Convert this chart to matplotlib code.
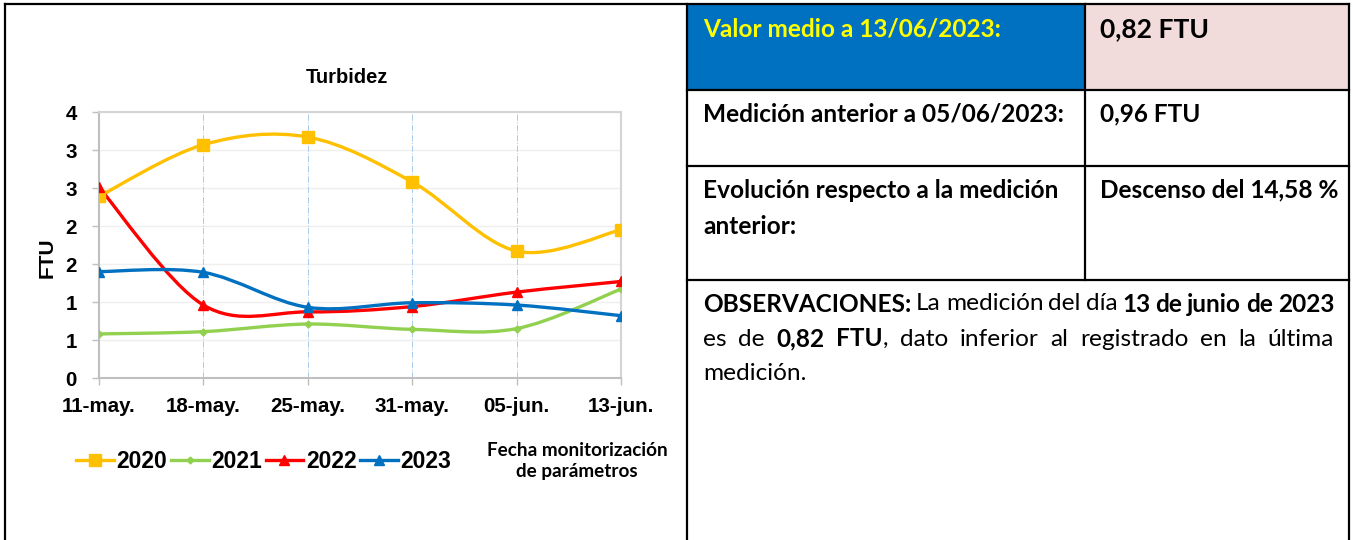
import numpy as np
import matplotlib
matplotlib.use("Agg")
import matplotlib.pyplot as plt
from matplotlib.path import Path
from matplotlib.patches import PathPatch, Rectangle
from matplotlib.lines import Line2D

# data
fechas = ["11-may.", "18-may.", "25-may.", "31-may.", "05-jun.", "13-jun."]
v2020 = [2.39, 3.07, 3.17, 2.58, 1.67, 1.95]
v2021 = [0.58, 0.61, 0.71, 0.64, 0.65, 1.17]
v2022 = [2.51, 0.96, 0.87, 0.94, 1.13, 1.27]
v2023 = [1.40, 1.39, 0.93, 0.99, 0.96, 0.82]
years = ["2020", "2021", "2022", "2023"]
yticks = [0, 0.5, 1, 1.5, 2, 2.5, 3, 3.5]
ytick_labels = ["0", "1", "1", "2", "2", "3", "3", "4"]

colors = ["#FFC000", "#92D050", "#FF0000", "#0070C0"]
markers = ["s", "D", "^", "^"]
msizes = [8, 3.5, 6.5, 6.5]

W, H = 1353, 540
fig = plt.figure(figsize=(W / 100, H / 100), dpi=100)

arial = "Liberation Sans"
calibri = "Lato"


def smooth_path(x, y):
    # excel-like smoothed line: cubic bezier with catmull-rom tangents
    pts = np.column_stack([x, y]).astype(float)
    n = len(pts)
    verts = [pts[0]]
    codes = [Path.MOVETO]
    for i in range(n - 1):
        p0 = pts[max(i - 1, 0)]
        p1 = pts[i]
        p2 = pts[i + 1]
        p3 = pts[min(i + 2, n - 1)]
        c1 = p1 + (p2 - p0) / 6
        c2 = p2 - (p3 - p1) / 6
        verts += [c1, c2, p2]
        codes += [Path.CURVE4] * 3
    return Path(verts, codes)


# chart
ax = fig.add_axes([99 / W, 1 - 378 / H, (621 - 99) / W, (378 - 112) / H])
xs = np.arange(len(fechas))
series = [v2020, v2021, v2022, v2023]
handles = []
for vals, c, m, ms, lab in zip(series, colors, markers, msizes, years):
    ax.add_patch(PathPatch(smooth_path(xs, vals), facecolor="none",
                           edgecolor=c, lw=2.4, zorder=3, capstyle="round"))
    ax.plot(xs, vals, ls="none", marker=m, ms=ms, color=c, zorder=4)
    handles.append(Line2D([], [], color=c, lw=2.4, marker=m, ms=ms, label=lab))

ax.set_xlim(0, 5)
ax.set_ylim(0, 3.5)
ax.set_yticks(yticks)
ax.set_yticklabels(ytick_labels)
ax.set_xticks(xs)
ax.set_xticklabels(fechas)
for t in ax.get_xticklabels() + ax.get_yticklabels():
    t.set_fontfamily(arial)
    t.set_fontweight("bold")
    t.set_fontsize(14.8)
ax.tick_params(axis="y", length=5, width=1, color="#BFBFBF", pad=11)
ax.tick_params(axis="x", length=5, width=1, color="#BFBFBF", pad=9)
for y in yticks[1:]:
    ax.axhline(y, color="#EFEFEF", lw=1, zorder=1)
for x in xs[1:]:
    ax.axvline(x, color="#A9CBEA", lw=0.7, ls="-.", zorder=1)
for s in ["left", "bottom", "right", "top"]:
    ax.spines[s].set_color("#D4D4D4")
    ax.spines[s].set_linewidth(1.5)
ax.spines["left"].set_color("#BFBFBF")
ax.spines["bottom"].set_color("#BFBFBF")

fig.text(347 / W, 1 - 78 / H, "Turbidez", ha="center", va="center",
         fontfamily=arial, fontweight="bold", fontsize=14.5)
fig.text(47 / W, 1 - 258 / H, "FTU", ha="center", va="center", rotation=90,
         fontfamily=arial, fontweight="bold", fontsize=15)

fig.legend(handles=handles, loc="center left", bbox_to_anchor=(76 / W, 1 - 462 / H),
           ncol=4, frameon=False, handlelength=1.65, handletextpad=0.12,
           columnspacing=0.15, borderpad=0, borderaxespad=0,
           prop={"family": arial, "weight": "bold", "size": 16.5})
fig.text(577 / W, 1 - 461 / H, "Fecha monitorización\nde parámetros", ha="center",
         va="center", fontfamily=calibri, fontweight="bold", fontsize=13.6,
         linespacing=1.3)

# table / frame overlay in pixel coordinates
ov = fig.add_axes([0, 0, 1, 1], zorder=-1)
ov.set_xlim(0, W)
ov.set_ylim(H, 0)
ov.axis("off")
ov.add_patch(Rectangle((687, 4), 1085 - 687, 90 - 4, color="#0070C0", lw=0))
ov.add_patch(Rectangle((1085, 4), 1349 - 1085, 90 - 4, color="#F2DCDB", lw=0))

ov2 = fig.add_axes([0, 0, 1, 1], zorder=5)
ov2.set_xlim(0, W)
ov2.set_ylim(H, 0)
ov2.axis("off")
lk = dict(color="black", lw=1.6, solid_capstyle="projecting")
ov2.plot([5, 1349], [4, 4], **lk)
ov2.plot([5, 5], [4, 540], **lk)
ov2.plot([687, 687], [4, 540], **lk)
ov2.plot([1349, 1349], [4, 540], **lk)
ov2.plot([1085, 1085], [4, 280], **lk)
for y in [90, 166, 280]:
    ov2.plot([687, 1349], [y, y], **lk)

tsz = 17.6
ov2.text(703, 29, "Valor medio a 13/06/2023:", color="#FFFF00", fontfamily=calibri,
         fontweight="bold", fontsize=tsz, va="center")
ov2.text(1100, 29, "0,82 FTU", color="black", fontfamily=calibri,
         fontweight="bold", fontsize=tsz + 1.5, va="center")
ov2.text(703, 114, "Medición anterior a 05/06/2023:", fontfamily=calibri,
         fontweight="bold", fontsize=tsz, va="center")
ov2.text(1100, 114, "0,96 FTU", fontfamily=calibri, fontweight="bold",
         fontsize=tsz, va="center")
ov2.text(703, 190, "Evolución respecto a la medición", fontfamily=calibri,
         fontweight="bold", fontsize=tsz, va="center")
ov2.text(703, 226, "anterior:", fontfamily=calibri, fontweight="bold",
         fontsize=tsz, va="center")
ov2.text(1100, 190, "Descenso del 14,58 %", fontfamily=calibri, fontweight="bold",
         fontsize=tsz, va="center")

# justified observations paragraph
obs_lines = [
    [[("OBSERVACIONES:", True)], [("La", False)], [("medición", False)],
     [("del", False)], [("día", False)], [("13", True)], [("de", True)],
     [("junio", True)], [("de", True)], [("2023", True)]],
    [[("es", False)], [("de", False)], [("0,82", True)],
     [("FTU", True), (",", False)], [("dato", False)], [("inferior", False)],
     [("al", False)], [("registrado", False)], [("en", False)], [("la", False)],
     [("última", False)]],
    [[("medición.", False)]],
]
obs_y = [304, 339, 374]
x0, x1 = 703, 1334
fig.canvas.draw()
r = fig.canvas.get_renderer()
for li, (words, y) in enumerate(zip(obs_lines, obs_y)):
    arts = []
    widths = []
    for word in words:
        parts = []
        wsum = 0
        for txt, b in word:
            t = ov2.text(0, y, txt, fontfamily=calibri, fontsize=tsz,
                         fontweight="bold" if b else "normal", va="center")
            w = t.get_window_extent(r).width
            parts.append((t, w))
            wsum += w
        arts.append(parts)
        widths.append(wsum)
    justify = li < len(obs_lines) - 1
    gap = (x1 - x0 - sum(widths)) / (len(words) - 1) if justify else 5.5
    x = x0
    for parts, w in zip(arts, widths):
        xx = x
        for t, pw in parts:
            t.set_x(xx)
            xx += pw
        x += w + gap

fig.savefig("out.png", dpi=100)
